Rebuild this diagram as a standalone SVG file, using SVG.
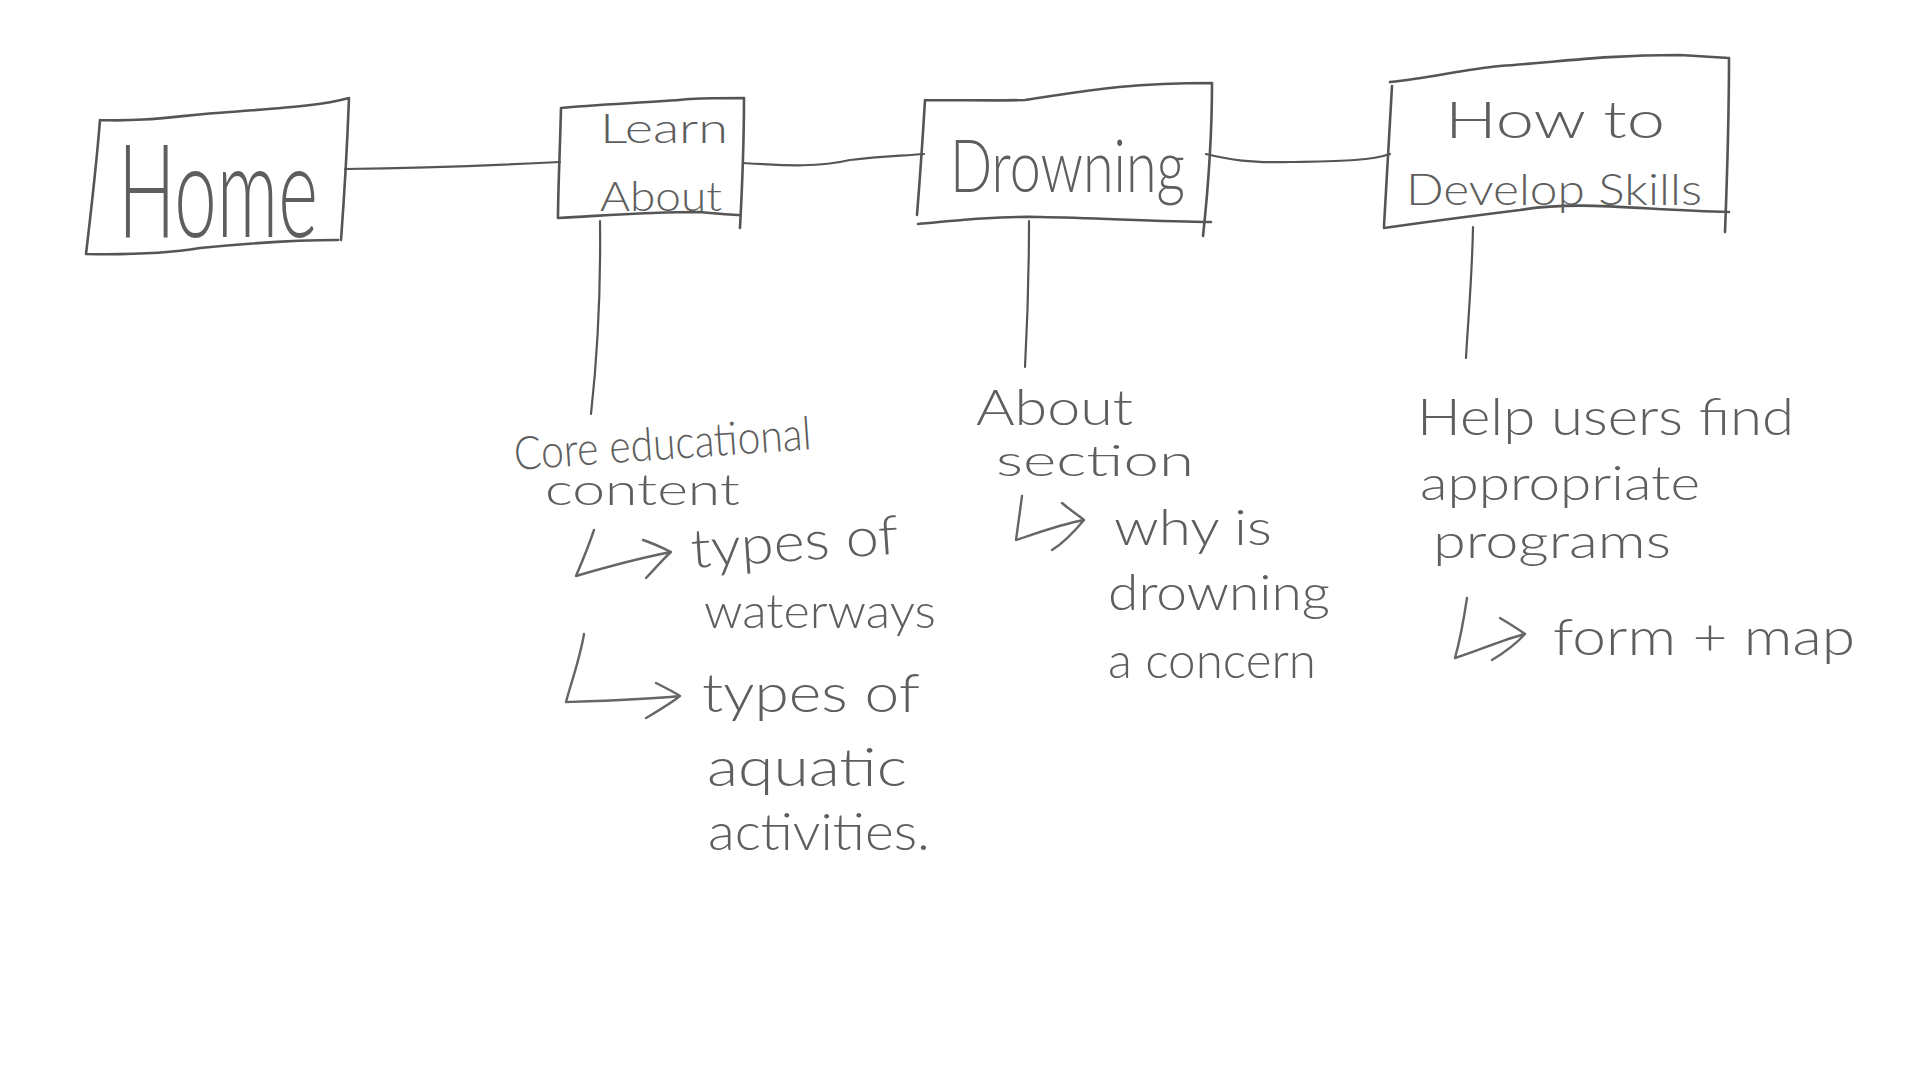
<svg xmlns="http://www.w3.org/2000/svg" width="1920" height="1080" viewBox="0 0 1920 1080">
<style>
.box{fill:none;stroke:#555;stroke-width:2.6;stroke-linecap:round;stroke-linejoin:round}
.ln{fill:none;stroke:#555;stroke-width:2.2;stroke-linecap:round;stroke-linejoin:round}
.ar{fill:none;stroke:#666;stroke-width:2.4;stroke-linecap:round;stroke-linejoin:round}
text{font-family:"Lato","Roboto","Liberation Sans",sans-serif;font-weight:300;fill:#5e5e5e}
</style>
<rect width="1920" height="1080" fill="#fff"/>
<g id="connectors">
<path class="ln" d="M345,169 C420,168 480,166 560,162"/>
<path class="ln" d="M743,163 C790,166 820,167 850,160 C880,156 900,156 924,154"/>
<path class="ln" d="M1206,154 C1230,160 1250,163 1290,162 C1340,161 1370,161 1390,154"/>
<path class="ln" d="M600,221 C601,300 597,360 591,414"/>
<path class="ln" d="M1029,221 C1029,280 1027,330 1025,367"/>
<path class="ln" d="M1473,227 C1472,280 1468,320 1466,358"/>
</g>
<g id="home">
<path class="box" d="M100,120 C150,122 180,115 230,112 C280,108 320,106 349,98 M349,98 C347,150 344,200 341,240 M86,254 C140,255 170,253 200,248 C260,242 300,240 338,240 M100,120 C96,170 90,220 86,254"/>
<text x="118" y="237" font-size="130" textLength="200" lengthAdjust="spacingAndGlyphs">Home</text>
</g>
<g id="learn-about">
<path class="box" d="M561,108 C620,103 660,102 690,99 C710,98 730,98 744,98 M744,98 C744,150 742,190 740,228 M558,218 C600,216 640,212 700,212 C720,214 735,215 740,215 M561,108 C560,150 558,190 558,218"/>
<text x="600" y="143" font-size="42" textLength="128" lengthAdjust="spacingAndGlyphs">Learn</text>
<text x="600" y="211" font-size="42" textLength="122" lengthAdjust="spacingAndGlyphs">About</text>
</g>
<g id="drowning">
<path class="box" d="M925,100 C970,100 990,101 1025,100 C1080,92 1120,83 1212,83 M1212,83 C1212,140 1208,190 1203,236 M918,224 C960,220 1000,216 1040,217 C1100,218 1160,222 1211,222 M925,100 C922,150 919,190 917,215"/>
<text x="950" y="192" font-size="72" textLength="235" lengthAdjust="spacingAndGlyphs">Drowning</text>
</g>
<g id="how-to">
<path class="box" d="M1390,82 C1430,78 1460,70 1500,66 C1560,62 1600,55 1680,55 L1729,58 M1729,58 C1729,120 1727,180 1725,232 M1384,228 C1440,220 1480,215 1520,210 C1580,200 1640,210 1729,212 M1392,86 C1389,140 1386,190 1384,226"/>
<text x="1445" y="138" font-size="52" textLength="220" lengthAdjust="spacingAndGlyphs">How to</text>
<text x="1406" y="205" font-size="44" textLength="296" lengthAdjust="spacingAndGlyphs">Develop Skills</text>
</g>
<g id="learn-notes">
<text x="515" y="470" font-size="46" textLength="298" lengthAdjust="spacingAndGlyphs" transform="rotate(-4 515 470)">Core educational</text>
<text x="545" y="505" font-size="44" textLength="195" lengthAdjust="spacingAndGlyphs">content</text>
<path class="ar" d="M594,530 C588,548 582,562 576,576 C610,566 640,558 671,552 M643,540 C655,544 663,548 671,552 C662,560 654,570 646,578"/>
<text x="692" y="568" font-size="54" textLength="208" lengthAdjust="spacingAndGlyphs" transform="rotate(-4 692 568)">types of</text>
<text x="704" y="628" font-size="48" textLength="232" lengthAdjust="spacingAndGlyphs">waterways</text>
<path class="ar" d="M584,634 C580,658 572,680 566,702 C600,701 640,700 680,696 M656,683 C666,688 674,692 680,696 C670,704 656,712 646,718"/>
<text x="702" y="712" font-size="54" textLength="218" lengthAdjust="spacingAndGlyphs">types of</text>
<text x="707" y="786" font-size="54" textLength="200" lengthAdjust="spacingAndGlyphs">aquatic</text>
<text x="708" y="850" font-size="52" textLength="222" lengthAdjust="spacingAndGlyphs">activities.</text>
</g>
<g id="drowning-notes">
<text x="976" y="425" font-size="50" textLength="157" lengthAdjust="spacingAndGlyphs">About</text>
<text x="996" y="476" font-size="44" textLength="198" lengthAdjust="spacingAndGlyphs">section</text>
<path class="ar" d="M1022,496 C1020,510 1018,526 1016,540 C1040,532 1062,524 1084,520 M1062,503 C1070,510 1078,515 1084,520 C1074,532 1062,544 1052,550"/>
<text x="1114" y="545" font-size="50" textLength="158" lengthAdjust="spacingAndGlyphs">why is</text>
<text x="1108" y="610" font-size="50" textLength="222" lengthAdjust="spacingAndGlyphs">drowning</text>
<text x="1108" y="678" font-size="50" textLength="208" lengthAdjust="spacingAndGlyphs">a concern</text>
</g>
<g id="howto-notes">
<text x="1417" y="435" font-size="52" textLength="377" lengthAdjust="spacingAndGlyphs">Help users find</text>
<text x="1420" y="500" font-size="48" textLength="280" lengthAdjust="spacingAndGlyphs">appropriate</text>
<text x="1433" y="558" font-size="48" textLength="238" lengthAdjust="spacingAndGlyphs">programs</text>
<path class="ar" d="M1467,598 C1464,618 1460,640 1455,658 C1480,650 1502,640 1525,634 M1500,618 C1510,624 1518,629 1525,634 C1516,644 1502,654 1492,660"/>
<text x="1553" y="655" font-size="52" textLength="302" lengthAdjust="spacingAndGlyphs">form + map</text>
</g>
</svg>
